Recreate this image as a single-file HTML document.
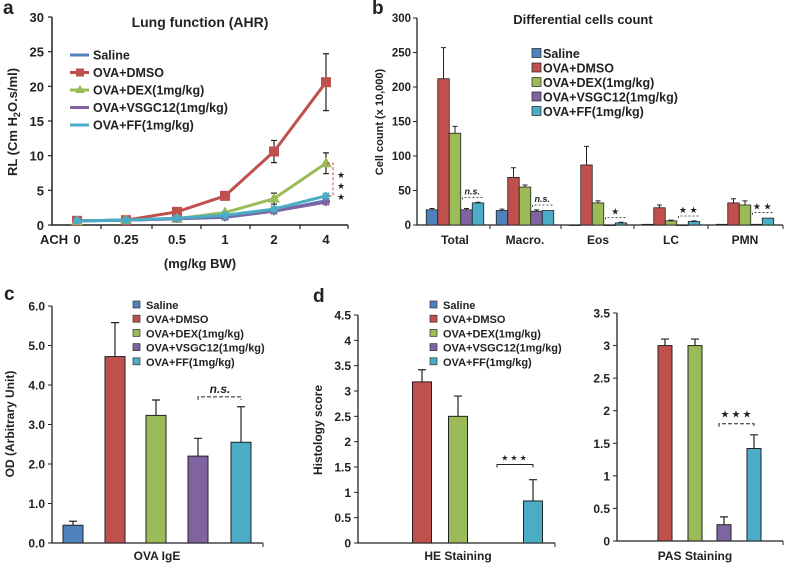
<!DOCTYPE html>
<html><head><meta charset="utf-8"><style>
body{margin:0;background:#fff;}
svg{display:block;font-family:"Liberation Sans",Arial,sans-serif;}
</style></head><body>
<svg id="fig" width="787" height="566" viewBox="0 0 787 566"></svg>
<script>
// ---------- DATA ----------
const groups = ["Saline","OVA+DMSO","OVA+DEX(1mg/kg)","OVA+VSGC12(1mg/kg)","OVA+FF(1mg/kg)"];
const colors = ["#4f81bd","#c0504d","#9bbb59","#8064a2","#4bacc6"];
// panel a
const aDoses = ["0","0.25","0.5","1","2","4"];
const aSaline = [0.6,0.7,0.9,1.1,2.0,3.5];
const aDMSO = [0.6,0.7,1.9,4.2,10.6,20.6];
const aDEX = [0.6,0.7,0.9,1.8,3.8,8.9];
const aVSGC = [0.6,0.7,0.9,1.2,2.0,3.3];
const aFF = [0.6,0.7,1.0,1.4,2.3,4.2];
const aErrDMSO = [0.1,0.1,0.3,0.4,1.6,4.1];
const aErrDEX = [0.1,0.1,0.2,0.3,0.8,1.5];
const aTicks = [0,5,10,15,20,25,30];
// panel b
const bCats = ["Total","Macro.","Eos","LC","PMN"];
const bSaline = [22,21,0,1,1];
const bDMSO = [212,69,87,25,32];
const bDEX = [133,55,32,6,29];
const bVSGC = [22,20,0,0,1];
const bFF = [32,21,3,5,10];
const bErrSaline = [2,2,0,0,0];
const bErrDMSO = [45,14,27,4,6];
const bErrDEX = [10,3,3,1,6];
const bErrVSGC = [2,2,0,0,0];
const bErrFF = [1,0,1,1,0];
const bTicks = [0,50,100,150,200,250,300];
// panel c
const cVals = [0.45,4.72,3.23,2.2,2.55];
const cErr = [0.1,0.86,0.39,0.45,0.9];
const cTicks = ["0.0","1.0","2.0","3.0","4.0","5.0","6.0"];
// panel d
const heVals = [0,3.18,2.5,0,0.83];
const heErr = [0,0.24,0.4,0,0.42];
const pasVals = [0,3.0,3.0,0.25,1.42];
const pasErr = [0,0.1,0.1,0.12,0.21];
const heTicks = ["0","0.5","1","1.5","2","2.5","3","3.5","4","4.5"];
const pasTicks = ["0","0.5","1","1.5","2","2.5","3","3.5"];

// ---------- HELPERS ----------
const svg = document.getElementById('fig');
const NS = "http://www.w3.org/2000/svg";
function mk(tag, attrs, parent){
  const e = document.createElementNS(NS, tag);
  for (const k in attrs) e.setAttribute(k, attrs[k]);
  (parent||svg).appendChild(e);
  return e;
}
function txt(s, x, y, size, anchor, weight, parent){
  const t = mk('text', {x:x, y:y, 'font-size':size, 'text-anchor':anchor||'start', 'font-weight':weight||'bold', fill:'#222'}, parent);
  t.textContent = s;
  return t;
}
function scale(d0,d1,r0,r1){ return v => r0 + (v-d0)/(d1-d0)*(r1-r0); }
function star(x,y,parent){ const t = txt('★', x, y, 9, 'middle', 'normal', parent); return t; }

// panel labels
[["a",3,14],["b",372,14],["c",4,300],["d",313,302]].forEach(p=>{
  const t = txt(p[0], p[1], p[2], 19, 'start', 'bold');
  
  
});

// ---------- PANEL A ----------
(function(){
  const g = mk('g', {});
  
  
  const y = scale(0,30,225,17);
  const xs = [77,126,177,225,274,326];
  const ax = mk('path', {d:'M52,17 V225 H348', stroke:'#222', 'stroke-width':1.5, fill:'none'}, g);
  
  
  aTicks.forEach(v=>{
    mk('line', {x1:48,x2:52,y1:y(v),y2:y(v),stroke:'#222','stroke-width':1.2}, g);
    const t = txt(String(v), 44, y(v)+5, 13, 'end', 'bold', g);
    
    
  });
  aDoses.forEach((d,i)=>{
    const t = txt(d, xs[i], 244, 13, 'middle', 'bold', g);
    
    
  });
  [101,152,201,250,300,348].forEach(x=>mk('line',{x1:x,x2:x,y1:225,y2:229,stroke:'#222','stroke-width':1.2},g));
  const ach = txt('ACH', 40, 244, 13, 'start', 'bold', g);
  
  
  const xl = txt('(mg/kg BW)', 200, 268, 13, 'middle', 'bold', g);
  
  
  const yl = mk('text', {x:0,y:0,'font-size':13,'font-weight':'bold','text-anchor':'middle',fill:'#222',transform:'translate(17,122) rotate(-90)'}, g);
  yl.innerHTML = 'RL (Cm H<tspan font-size="9" dy="3">2</tspan><tspan dy="-3">O.s/ml)</tspan>';
  
  
  const ti = txt('Lung function (AHR)', 200, 27, 14, 'middle', 'bold', g);
  
  
  [[aDMSO,aErrDMSO],[aDEX,aErrDEX]].forEach(([vals,err])=>{
    vals.forEach((v,i)=>{
      if (err[i] < 0.5) return;
      const e = mk('path',{d:`M${xs[i]},${y(v-err[i])} V${y(v+err[i])} M${xs[i]-3},${y(v-err[i])} h6 M${xs[i]-3},${y(v+err[i])} h6`,stroke:'#222','stroke-width':1.2,fill:'none'},g);
      
      
    });
  });
  const series = [aSaline,aDMSO,aDEX,aVSGC,aFF];
  const order = [1,2,0,3,4];
  order.forEach(si=>{
    const vals = series[si];
    const pl = mk('polyline',{points:vals.map((v,i)=>xs[i]+','+y(v)).join(' '),fill:'none',stroke:colors[si],'stroke-width':3},g);
    
    
    vals.forEach((v,i)=>{
      let m;
      if (si===1) m = mk('rect',{x:xs[i]-5,y:y(v)-5,width:10,height:10,fill:colors[si]},g);
      else if (si===2) m = mk('polygon',{points:`${xs[i]},${y(v)-6} ${xs[i]-6},${y(v)+4} ${xs[i]+6},${y(v)+4}`,fill:colors[si]},g);
      else m = mk('path',{d:`M${xs[i]-4},${y(v)} h8 M${xs[i]},${y(v)-4} v8 M${xs[i]-3},${y(v)-3} l6,6 M${xs[i]+3},${y(v)-3} l-6,6`,stroke:colors[si],'stroke-width':2},g);
      
      
    });
  });
  const br = mk('path',{d:`M327,${y(aDEX[5])} h6 V${y(aFF[5])} h-6`,stroke:'#c0504d','stroke-width':1,'stroke-dasharray':'3,2',fill:'none'},g);
  
  
  [178,189,200].forEach(yy=>{ const s=star(341,yy,g);   });
  groups.forEach((n,i)=>{
    const ly = 55 + i*17.5;
    const l = mk('line',{x1:70,x2:89,y1:ly,y2:ly,stroke:colors[i],'stroke-width':3},g);
    
    
    if(i===1) mk('rect',{x:76,y:ly-4,width:8,height:8,fill:colors[i]},g);
    if(i===2) mk('polygon',{points:`80,${ly-5} 75,${ly+3} 85,${ly+3}`,fill:colors[i]},g);
    const t = txt(n, 93, ly+4.5, 12.5, 'start', 'bold', g);
    
    
  });
})();

// ---------- PANEL B ----------
(function(){
  const g = mk('g', {});
  
  
  const y = scale(0,300,225,18);
  const cx = [455,525,598,671,745];
  const bw = 11.5;
  const ax = mk('path',{d:'M417,18 V225 H783',stroke:'#222','stroke-width':1.3,fill:'none'},g);
  
  
  bTicks.forEach(v=>{
    mk('line',{x1:413,x2:417,y1:y(v),y2:y(v),stroke:'#222'},g);
    const t = txt(String(v), 411, y(v)+4, 11.5, 'end', 'bold', g);
    
    
  });
  [490,561,634,708,783].forEach(x=>mk('line',{x1:x,x2:x,y1:225,y2:229,stroke:'#222'},g));
  const series = [bSaline,bDMSO,bDEX,bVSGC,bFF];
  const errs = [bErrSaline,bErrDMSO,bErrDEX,bErrVSGC,bErrFF];
  bCats.forEach((c,ci)=>{
    const t = txt(c, cx[ci], 244, 12, 'middle', 'bold', g);
    
    
    series.forEach((s,si)=>{
      const x = cx[ci] + (si-2)*bw - bw/2;
      const v = s[ci];
      if (errs[si][ci] > 0) {
        const e = mk('path',{d:`M${x+bw/2},${y(v)} V${y(v+errs[si][ci])} M${x+bw/2-2.5},${y(v+errs[si][ci])} h5`,stroke:'#222','stroke-width':1},g);
        
        
      }
      const r = mk('rect',{x:x,y:y(v),width:bw,height:Math.max(0.5,y(0)-y(v)),fill:colors[si],stroke:'#222','stroke-width':0.8},g);
      
      
    });
  });
  const ti = txt('Differential cells count', 583, 24, 13, 'middle', 'bold', g);
  
  
  const yl = txt('Cell count (x 10,000)', 0, 0, 11, 'middle', 'bold', g);
  yl.setAttribute('transform','translate(383,122) rotate(-90)');
  
  
  const ann = [[0,'n.s.',true],[1,'n.s.',true],[2,'★',false],[3,'★ ★',false],[4,'★ ★',false]];
  ann.forEach(([ci,s,it])=>{
    const x1 = cx[ci]+bw*1.0, x2 = cx[ci]+bw*2.0;
    const by = y(Math.max(bVSGC[ci],bFF[ci]) + 8);
    mk('path',{d:`M${x1-4},${by+2} v-2 h${x2-x1+8} v2`,stroke:'#222','stroke-width':0.8,'stroke-dasharray':'2,2',fill:'none'},g);
    const t = txt(s, (x1+x2)/2, by-3, 9, 'middle', it?'bold':'normal', g);
    if(it) t.setAttribute('font-style','italic');
    
    
  });
  groups.forEach((n,i)=>{
    const ly = 53 + i*14.5;
    const r = mk('rect',{x:532,y:ly-4.5,width:9,height:9,fill:colors[i],stroke:'#222','stroke-width':0.7},g);
    
    
    const t = txt(n, 543, ly+5, 12.5, 'start', 'bold', g);
    
    
  });
})();

// ---------- SMALL LEGEND (c, d) ----------
function smallLegend(g, x, prefix){
  groups.forEach((n,i)=>{
    const ly = 305 + i*14.2;
    const r = mk('rect',{x:x,y:ly-4,width:7,height:7,fill:colors[i],stroke:'#333','stroke-width':0.7},g);
    
    
    const t = txt(n, x+13, ly+4, 11, 'start', 'bold', g);
    
    
  });
}
function barPanel(g, prefix, axX, axEnd, y0, yTop, tickLabels, tickMax, centers, bw, vals, errs, xlabel, xlabelX, tickFont){
  const y = scale(0, tickMax, y0, yTop);
  const ax = mk('path',{d:`M${axX},${yTop} V${y0} H${axEnd}`,stroke:'#222','stroke-width':1.3,fill:'none'},g);
  
  
  mk('line',{x1:axEnd,x2:axEnd,y1:y0,y2:y0+4,stroke:'#222'},g);
  tickLabels.forEach((lab,i)=>{
    const v = tickMax*i/(tickLabels.length-1);
    mk('line',{x1:axX-4,x2:axX,y1:y(v),y2:y(v),stroke:'#222'},g);
    const t = txt(lab, axX-7, y(v)+4.5, tickFont, 'end', 'bold', g);
    
    
  });
  vals.forEach((v,i)=>{
    if (v<=0) return;
    const x = centers[i];
    const e = mk('path',{d:`M${x},${y(v)} V${y(v+errs[i])} M${x-4},${y(v+errs[i])} h8`,stroke:'#222','stroke-width':1.2},g);
    
    
    const r = mk('rect',{x:x-bw/2,y:y(v),width:bw,height:y(0)-y(v),fill:colors[i],stroke:'#222','stroke-width':1},g);
    
    
  });
  const xl = txt(xlabel, xlabelX, 560, 12, 'middle', 'bold', g);
  
  
  return y;
}

// ---------- PANEL C ----------
(function(){
  const g = mk('g', {});
  
  
  const y = barPanel(g,'c',52,263,543,306,cTicks,6,[73,115,156,198,241],20,cVals,cErr,'OVA IgE',157,12);
  const yl = txt('OD (Arbitrary Unit)', 0, 0, 12, 'middle', 'bold', g);
  yl.setAttribute('transform','translate(14,424) rotate(-90)');
  
  
  const by = y(3.7);
  const br = mk('path',{d:`M198,${by+3} v-3 H241 v3`,stroke:'#222','stroke-dasharray':'4,2','stroke-width':1,fill:'none'},g);
  
  
  const ns = txt('n.s.', 220, by-4, 12, 'middle', 'bold', g);
  ns.setAttribute('font-style','italic');
  
  
  smallLegend(g, 133, 'c');
})();

// ---------- PANEL D ----------
(function(){
  const g = mk('g', {});
  
  
  const yh = barPanel(g,'d-he',358,555,543,315,heTicks,4.5,[386,422,458,497,533],19,heVals,heErr,'HE Staining',458,12);
  const yl = txt('Histology score', 0, 0, 12, 'middle', 'bold', g);
  yl.setAttribute('transform','translate(322,430) rotate(-90)');
  
  
  const hb = yh(1.55);
  const b1 = mk('path',{d:`M497,${hb+3} v-3 H533 v3`,stroke:'#222','stroke-width':1,fill:'none'},g);
  
  
  const s1 = txt('★★★', 515, hb-4, 8, 'middle', 'normal', g);
  s1.setAttribute('letter-spacing','2');
  
  
  const yp = barPanel(g,'d-pas',617,783,541,313,pasTicks,3.5,[636,665,695,724,754],14,pasVals,pasErr,'PAS Staining',695,12);
  const pb = yp(1.8);
  const b2 = mk('path',{d:`M719,${pb+3} v-3 H754 v3`,stroke:'#222','stroke-width':1,'stroke-dasharray':'4,2',fill:'none'},g);
  
  
  const s2 = txt('★★★', 737, pb-6, 10, 'middle', 'normal', g);
  s2.setAttribute('letter-spacing','2');
  
  
  smallLegend(g, 430, 'd');
})();
</script>
</body></html>
